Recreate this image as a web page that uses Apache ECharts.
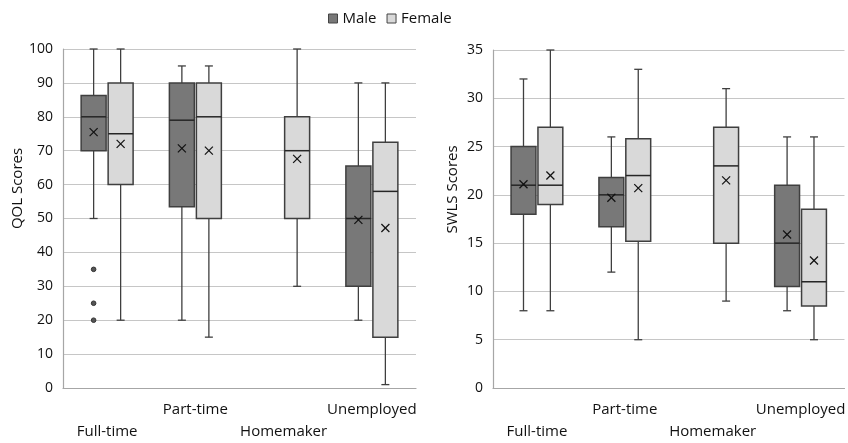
<!DOCTYPE html>
<html>
<head>
<meta charset="utf-8">
<script src="https://cdn.jsdelivr.net/npm/echarts@6/dist/echarts.min.js"></script>
<style>html,body{margin:0;padding:0;background:#fff}#c{width:848px;height:443px}</style>
</head>
<body>
<div id="c"></div>
<script>
const categories = ['Full-time', 'Part-time', 'Homemaker', 'Unemployed'];
const seriesNames = ['Male', 'Female'];
// box values: [min, Q1, median, Q3, max]; null = no box
const qolMale = [[50, 70, 80, 86.3, 100], [20, 53.5, 79, 90, 95], null, [20, 30, 50, 65.5, 90]];
const qolFemale = [[20, 60, 75, 90, 100], [15, 50, 80, 90, 95], [30, 50, 70, 80, 100], [1, 15, 58, 72.5, 90]];
const qolMaleMean = [75.5, 70.7, null, 49.6];
const qolFemaleMean = [72, 70, 67.6, 47.2];
const qolMaleOutliers = [[35, 25, 20], [], [], []];
const qolFemaleOutliers = [[], [], [], []];
const swlsMale = [[8, 18, 21, 25, 32], [12, 16.7, 20, 21.8, 26], null, [8, 10.5, 15, 21, 26]];
const swlsFemale = [[8, 19, 21, 27, 35], [5, 15.2, 22, 25.8, 33], [9, 15, 23, 27, 31], [5, 8.5, 11, 18.5, 26]];
const swlsMaleMean = [21.1, 19.7, null, 15.9];
const swlsFemaleMean = [22, 20.7, 21.5, 13.2];
const qolTicks = {min: 0, max: 100, interval: 10};
const swlsTicks = {min: 0, max: 35, interval: 5};

const FONT = 'Open Sans';
const MALE_FILL = '#787878', FEMALE_FILL = '#d9d9d9', EDGE = '#3f3f3f';

function boxData(boxes, means) {
  const out = [];
  boxes.forEach((b, i) => { if (b) out.push([i].concat(b, [means[i]])); });
  return out;
}
function outlierData(outs) {
  const out = [];
  outs.forEach((arr, i) => arr.forEach(v => out.push([i, v])));
  return out;
}
function boxRender(sign, fill) {
  return function (params, api) {
    const cat = api.value(0);
    const bw = api.size([1, 0])[0];
    const w = bw * 0.283;
    const cx = api.coord([cat, 0])[0] + sign * bw * 0.153;
    const y = k => api.coord([cat, api.value(k)])[1];
    const yMin = y(1), yQ1 = y(2), yMed = y(3), yQ3 = y(4), yMax = y(5), yMean = y(6);
    const cap = 4, m = 4;
    const ls = {stroke: EDGE, lineWidth: 1.3};
    return {
      type: 'group',
      children: [
        {type: 'line', shape: {x1: cx, y1: yQ3, x2: cx, y2: yMax}, style: ls},
        {type: 'line', shape: {x1: cx, y1: yQ1, x2: cx, y2: yMin}, style: ls},
        {type: 'line', shape: {x1: cx - cap, y1: yMax, x2: cx + cap, y2: yMax}, style: ls},
        {type: 'line', shape: {x1: cx - cap, y1: yMin, x2: cx + cap, y2: yMin}, style: ls},
        {type: 'rect', shape: {x: cx - w / 2, y: yQ3, width: w, height: yQ1 - yQ3}, style: {fill: fill, stroke: EDGE, lineWidth: 1.5}},
        {type: 'line', shape: {x1: cx - w / 2, y1: yMed, x2: cx + w / 2, y2: yMed}, style: {stroke: '#262626', lineWidth: 1.5}},
        {type: 'line', shape: {x1: cx - m, y1: yMean - m, x2: cx + m, y2: yMean + m}, style: {stroke: '#111', lineWidth: 1.2}},
        {type: 'line', shape: {x1: cx - m, y1: yMean + m, x2: cx + m, y2: yMean - m}, style: {stroke: '#111', lineWidth: 1.2}}
      ]
    };
  };
}
function outlierRender(sign) {
  return function (params, api) {
    const cat = api.value(0);
    const bw = api.size([1, 0])[0];
    const p = api.coord([cat, api.value(1)]);
    return {type: 'circle', shape: {cx: p[0] + sign * bw * 0.153, cy: p[1], r: 2.3}, style: {fill: '#555', stroke: '#333', lineWidth: 1}};
  };
}

function xAxis(gi) {
  return {
    type: 'category', gridIndex: gi, data: categories,
    axisTick: {show: false},
    axisLine: {lineStyle: {color: '#a6a6a6', width: 1.2}},
    axisLabel: {
      interval: 0, margin: 11, fontFamily: FONT, fontSize: 15, color: '#111', lineHeight: 22,
      formatter: (v, i) => (i % 2 === 0 ? '\n' + v : v)
    }
  };
}
function yAxis(gi, ticks, name, gap, shift) {
  return {
    type: 'value', gridIndex: gi, min: ticks.min, max: ticks.max, interval: ticks.interval,
    name: name, nameLocation: 'middle', nameGap: gap,
    nameTextStyle: {fontFamily: FONT, fontSize: 15, color: '#111', padding: [0, 0, 0, shift]},
    axisLine: {show: true, lineStyle: {color: '#a6a6a6', width: 1.2}},
    axisTick: {show: false},
    axisLabel: {margin: 10, fontFamily: FONT, fontSize: 14, color: '#111'},
    splitLine: {lineStyle: {color: '#c6c6c6', width: 1.2}}
  };
}

const series = [];
[[qolMale, qolMaleMean, qolFemale, qolFemaleMean, qolMaleOutliers, qolFemaleOutliers, 0],
 [swlsMale, swlsMaleMean, swlsFemale, swlsFemaleMean, [[], [], [], []], [[], [], [], []], 1]].forEach(s => {
  const gi = s[6];
  series.push({name: 'Male', type: 'custom', xAxisIndex: gi, yAxisIndex: gi, itemStyle: {color: MALE_FILL},
    encode: {x: 0, y: [1, 2, 3, 4, 5, 6]}, data: boxData(s[0], s[1]), renderItem: boxRender(-1, MALE_FILL)});
  series.push({name: 'Female', type: 'custom', xAxisIndex: gi, yAxisIndex: gi, itemStyle: {color: FEMALE_FILL},
    encode: {x: 0, y: [1, 2, 3, 4, 5, 6]}, data: boxData(s[2], s[3]), renderItem: boxRender(1, FEMALE_FILL)});
  series.push({name: 'Male', type: 'custom', xAxisIndex: gi, yAxisIndex: gi, itemStyle: {color: MALE_FILL},
    encode: {x: 0, y: 1}, data: outlierData(s[4]), renderItem: outlierRender(-1)});
});

const chart = echarts.init(document.getElementById('c'), null, {renderer: 'canvas'});
chart.setOption({
  animation: false,
  backgroundColor: '#fff',
  legend: {
    left: 323, top: 6, icon: 'rect', itemWidth: 9, itemHeight: 9, itemGap: 10,
    textStyle: {fontFamily: FONT, fontSize: 15, color: '#111'},
    data: [
      {name: 'Male', itemStyle: {color: MALE_FILL, borderColor: '#444', borderWidth: 1}},
      {name: 'Female', itemStyle: {color: FEMALE_FILL, borderColor: '#444', borderWidth: 1}}
    ]
  },
  grid: [
    {left: 63, right: 432, top: 49, bottom: 53},
    {left: 493, right: 1, top: 50, bottom: 51}
  ],
  xAxis: [xAxis(0), xAxis(1)],
  yAxis: [yAxis(0, qolTicks, 'QOL Scores', 32, 60), yAxis(1, swlsTicks, 'SWLS Scores', 33, 59)],
  series: series
});
</script>
</body>
</html>
